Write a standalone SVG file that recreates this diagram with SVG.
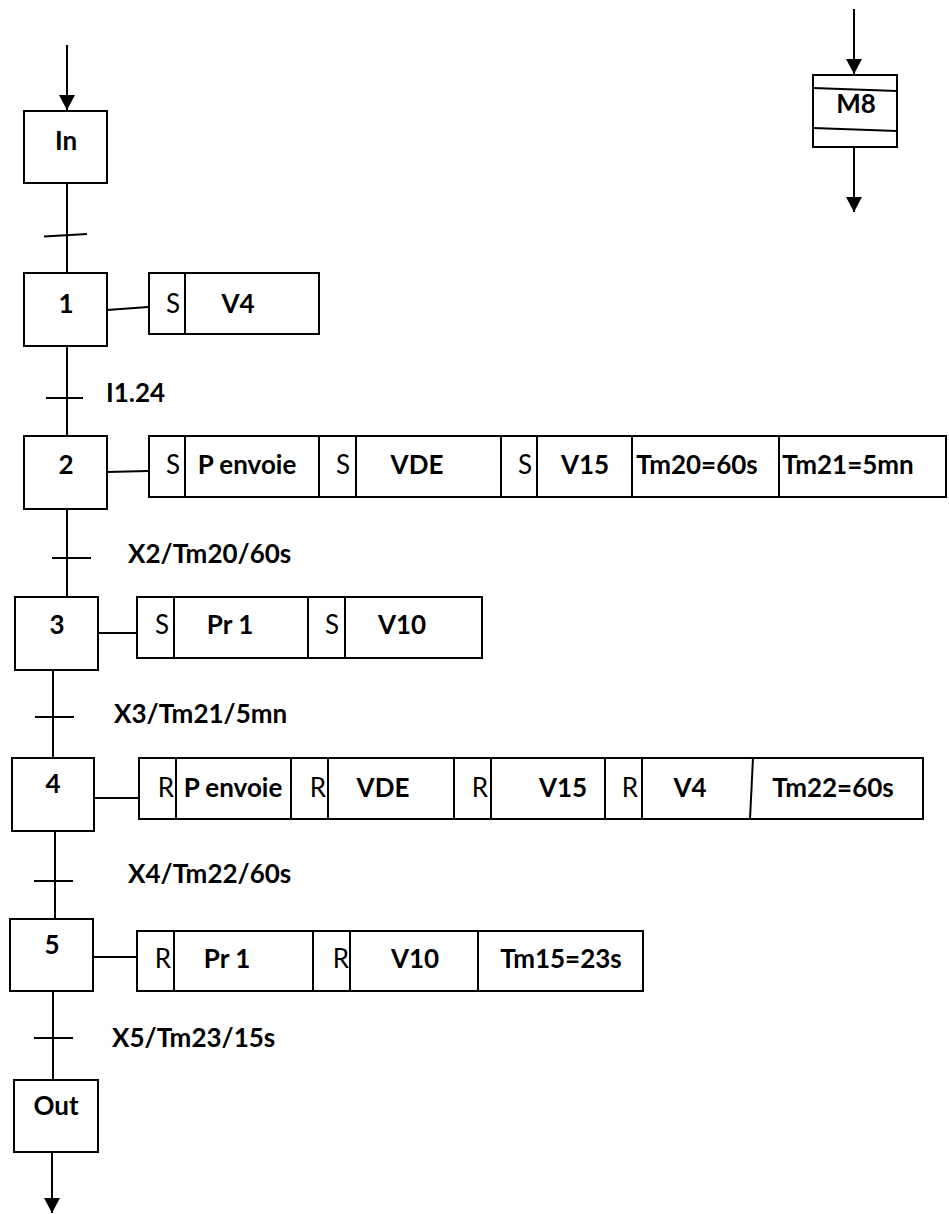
<svg xmlns="http://www.w3.org/2000/svg" width="949" height="1214" viewBox="0 0 949 1214">
<style>
  .box{fill:#fff;stroke:#000;stroke-width:2}
  .ln{stroke:#000;stroke-width:2;fill:none}
  .t{font-family:Lato,"Liberation Sans",sans-serif;font-weight:bold;font-size:26px;fill:#000}
  .c{text-anchor:middle}
  .r{font-family:Lato,"Liberation Sans",sans-serif;font-weight:normal;font-size:26px;fill:#000;text-anchor:middle}
</style>
<defs>
  <marker id="ah" markerUnits="userSpaceOnUse" markerWidth="16" markerHeight="16" refX="15" refY="8" orient="auto">
    <path d="M0,0 L15,8 L0,16 Z" fill="#000"/>
  </marker>
</defs>

<g id="connectors">
  <line class="ln" x1="67" y1="45" x2="67" y2="110" marker-end="url(#ah)"/>
  <line class="ln" x1="67" y1="183" x2="67" y2="273"/>
  <line class="ln" x1="44" y1="236.5" x2="87" y2="234"/>
  <line class="ln" x1="67" y1="346" x2="67" y2="436"/>
  <line class="ln" x1="46" y1="398" x2="83" y2="398"/>
  <line class="ln" x1="67" y1="509" x2="67" y2="597"/>
  <line class="ln" x1="52" y1="558" x2="91" y2="558"/>
  <line class="ln" x1="53" y1="670" x2="53" y2="758"/>
  <line class="ln" x1="35" y1="717" x2="74" y2="717"/>
  <line class="ln" x1="55" y1="831" x2="55" y2="919"/>
  <line class="ln" x1="34" y1="881" x2="73" y2="881"/>
  <line class="ln" x1="53" y1="991" x2="53" y2="1080"/>
  <line class="ln" x1="34" y1="1038" x2="73" y2="1038"/>
  <line class="ln" x1="52" y1="1152" x2="52" y2="1213" marker-end="url(#ah)"/>
  <line class="ln" x1="854" y1="9" x2="854" y2="74" marker-end="url(#ah)"/>
  <line class="ln" x1="854" y1="147" x2="854" y2="212" marker-end="url(#ah)"/>
  <line class="ln" x1="107" y1="310" x2="148" y2="307"/>
  <line class="ln" x1="107" y1="472" x2="148" y2="471"/>
  <line class="ln" x1="98" y1="633" x2="137" y2="633"/>
  <line class="ln" x1="94" y1="798" x2="139" y2="798"/>
  <line class="ln" x1="93" y1="957" x2="137" y2="957"/>
</g>

<g id="transition-labels">
  <text class="t" x="106" y="402">I1.24</text>
  <text class="t" x="128" y="563">X2/Tm20/60s</text>
  <text class="t" x="114" y="723">X3/Tm21/5mn</text>
  <text class="t" x="128" y="883">X4/Tm22/60s</text>
  <text class="t" x="112" y="1047">X5/Tm23/15s</text>
</g>

<g id="step-In">
  <rect class="box" x="24" y="111" width="83" height="72"/>
  <text class="t c" x="66" y="150">In</text>
</g>

<g id="step-1">
  <rect class="box" x="24" y="273" width="83" height="73"/>
  <text class="t c" x="66" y="313">1</text>
</g>
<g id="actions-1">
  <rect class="box" x="149" y="273" width="170" height="61"/>
  <line class="ln" x1="185" y1="273" x2="185" y2="334"/>
  <text class="r" x="173" y="313">S</text>
  <text class="t c" x="238" y="313">V4</text>
</g>

<g id="step-2">
  <rect class="box" x="24" y="436" width="83" height="73"/>
  <text class="t c" x="66" y="474">2</text>
</g>
<g id="actions-2">
  <rect class="box" x="149" y="436" width="797" height="61"/>
  <line class="ln" x1="185" y1="436" x2="185" y2="497"/>
  <line class="ln" x1="319" y1="436" x2="319" y2="497"/>
  <line class="ln" x1="356" y1="436" x2="356" y2="497"/>
  <line class="ln" x1="501" y1="436" x2="501" y2="497"/>
  <line class="ln" x1="537" y1="436" x2="537" y2="497"/>
  <line class="ln" x1="632" y1="436" x2="632" y2="498"/>
  <line class="ln" x1="779" y1="435" x2="779" y2="497"/>
  <text class="r" x="173" y="474">S</text>
  <text class="t c" x="247" y="474">P envoie</text>
  <text class="r" x="343" y="474">S</text>
  <text class="t c" x="417" y="474">VDE</text>
  <text class="r" x="525" y="474">S</text>
  <text class="t c" x="585" y="474">V15</text>
  <text class="t c" x="697" y="474">Tm20=60s</text>
  <text class="t c" x="848" y="474">Tm21=5mn</text>
</g>

<g id="step-3">
  <rect class="box" x="15" y="597" width="83" height="73"/>
  <text class="t c" x="57" y="634">3</text>
</g>
<g id="actions-3">
  <rect class="box" x="137" y="597" width="345" height="61"/>
  <line class="ln" x1="174" y1="597" x2="174" y2="658"/>
  <line class="ln" x1="308" y1="597" x2="308" y2="658"/>
  <line class="ln" x1="345" y1="597" x2="345" y2="658"/>
  <text class="r" x="162" y="634">S</text>
  <text class="t c" x="230" y="634">Pr 1</text>
  <text class="r" x="332" y="634">S</text>
  <text class="t c" x="402" y="634">V10</text>
</g>

<g id="step-4">
  <rect class="box" x="12" y="758" width="82" height="73"/>
  <text class="t c" x="53" y="793">4</text>
</g>
<g id="actions-4">
  <rect class="box" x="139" y="758" width="784" height="61"/>
  <line class="ln" x1="176" y1="758" x2="176" y2="819"/>
  <line class="ln" x1="291" y1="758" x2="291" y2="819"/>
  <line class="ln" x1="328" y1="758" x2="328" y2="819"/>
  <line class="ln" x1="454" y1="758" x2="454" y2="819"/>
  <line class="ln" x1="491" y1="758" x2="491" y2="819"/>
  <line class="ln" x1="605" y1="758" x2="605" y2="819"/>
  <line class="ln" x1="642" y1="758" x2="642" y2="819"/>
  <line class="ln" x1="753" y1="758" x2="750" y2="819"/>
  <text class="r" x="166" y="797">R</text>
  <text class="t c" x="233" y="797">P envoie</text>
  <text class="r" x="318" y="797">R</text>
  <text class="t c" x="383" y="797">VDE</text>
  <text class="r" x="480" y="797">R</text>
  <text class="t c" x="563" y="797">V15</text>
  <text class="r" x="630" y="797">R</text>
  <text class="t c" x="690" y="797">V4</text>
  <text class="t c" x="833" y="797">Tm22=60s</text>
</g>

<g id="step-5">
  <rect class="box" x="10" y="919" width="83" height="72"/>
  <text class="t c" x="52" y="954">5</text>
</g>
<g id="actions-5">
  <rect class="box" x="137" y="931" width="506" height="60"/>
  <line class="ln" x1="174" y1="931" x2="174" y2="991"/>
  <line class="ln" x1="313" y1="931" x2="313" y2="991"/>
  <line class="ln" x1="350" y1="931" x2="350" y2="991"/>
  <line class="ln" x1="478" y1="931" x2="478" y2="991"/>
  <text class="r" x="163" y="968">R</text>
  <text class="t c" x="227" y="968">Pr 1</text>
  <text class="r" x="341" y="968">R</text>
  <text class="t c" x="415" y="968">V10</text>
  <text class="t c" x="561" y="968">Tm15=23s</text>
</g>

<g id="step-Out">
  <rect class="box" x="14" y="1080" width="84" height="72"/>
  <text class="t c" x="56" y="1115">Out</text>
</g>

<g id="macro-M8">
  <rect class="box" x="813" y="75" width="84" height="72"/>
  <line class="ln" x1="813" y1="88" x2="897" y2="91"/>
  <line class="ln" x1="813" y1="128" x2="897" y2="131"/>
  <text class="t c" x="856" y="113">M8</text>
</g>
</svg>
